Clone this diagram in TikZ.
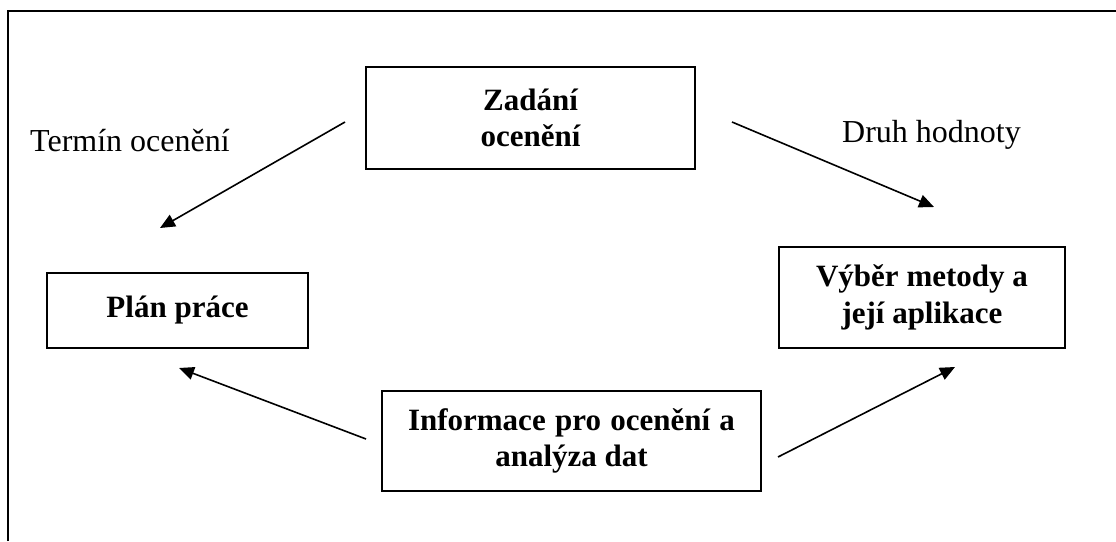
\documentclass[tikz,border=0pt]{standalone}
\usepackage{fontspec}
\setmainfont{Liberation Serif}
\usetikzlibrary{arrows.meta}
\begin{document}
\begin{tikzpicture}[x=1pt,y=-1pt,
  box/.style={draw=black,line width=2pt,rectangle,align=center,inner sep=0pt,
    font=\fontsize{31}{36.5}\selectfont\bfseries},
  lbl/.style={inner sep=0pt,anchor=base west,font=\fontsize{32}{36}\selectfont},
  arr/.style={line width=1.6pt,-{Triangle[length=15pt,width=13pt]}}]
\useasboundingbox (0,0) rectangle (1116,541);
% outer frame (top and left edges only visible)
\draw[line width=2pt] (8,541) -- (8,11) -- (1116,11);
% boxes
\node[box,minimum width=329pt,minimum height=102pt] (zad) at (530.5,118) {Zadání\\ocenění};
\node[box,minimum width=261pt,minimum height=75pt] (plan) at (177.5,310.5) {Plán práce};
\node[box,minimum width=286pt,minimum height=101pt] (vyb) at (922,297.5) {Výběr metody a\\její aplikace};
\node[box,minimum width=379pt,minimum height=100pt] (inf) at (571.5,441) {Informace\hspace{0.3em}pro\hspace{0.3em}ocenění\hspace{0.3em}a\\analýza dat};
% labels
\node[lbl] (t1) at (30,151) {Termín ocenění};
\node[lbl] (t2) at (842,142) {Druh hodnoty};
% arrow endpoints
\coordinate (a1s) at (345,122); \coordinate (a1e) at (160,228);
\coordinate (a2s) at (732,122); \coordinate (a2e) at (934,207);
\coordinate (a3s) at (366,439); \coordinate (a3e) at (179,368);
\coordinate (a4s) at (778,457); \coordinate (a4e) at (955,367);
\draw[arr] (a1s) -- (a1e);
\draw[arr] (a2s) -- (a2e);
\draw[arr] (a3s) -- (a3e);
\draw[arr] (a4s) -- (a4e);
\end{tikzpicture}
\end{document}
